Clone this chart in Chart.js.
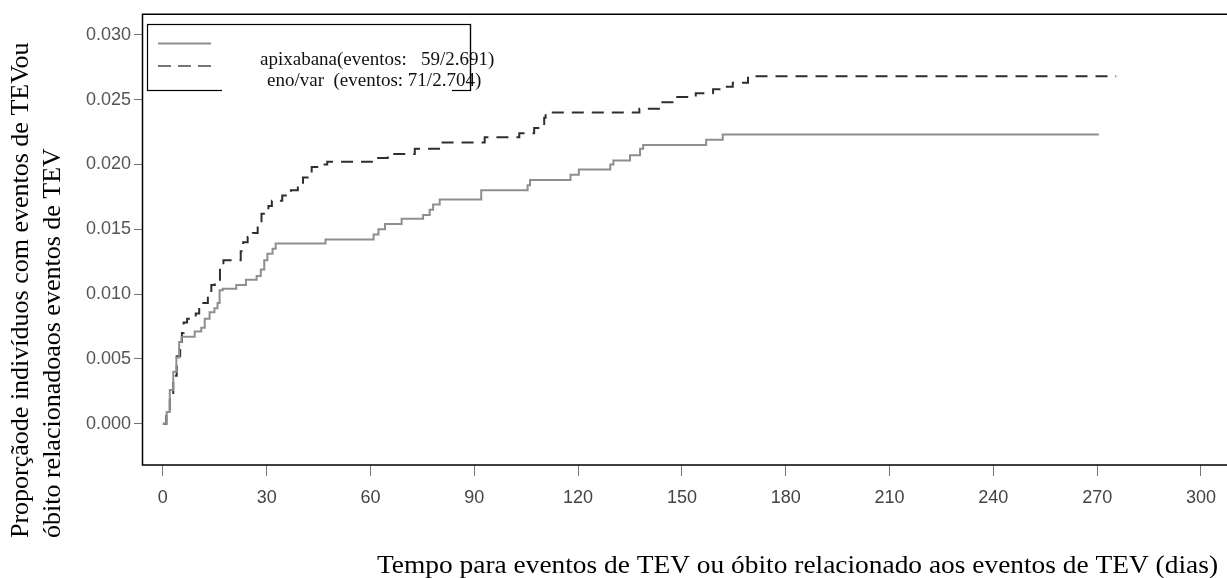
<!DOCTYPE html>
<html>
<head>
<meta charset="utf-8">
<script src="https://cdn.jsdelivr.net/npm/chart.js@4/dist/chart.umd.min.js"></script>
<style>
  html, body { margin: 0; padding: 0; background: #fff; }
  #wrap { width: 1227px; height: 578px; }
</style>
</head>
<body>
<div id="wrap"><canvas id="km" width="1227" height="578"></canvas></div>
<script>
// apixabana (solid) - cumulative proportion, step points
const apixDays = [0, 1.1, 2.0, 3.0, 3.9, 4.7, 5.4, 9.2, 11.1, 12.1, 13.5, 14.9, 15.8, 16.4, 17.3, 21.2, 24.0, 27.1, 28.3, 29.3, 30.2, 31.7, 32.6, 47.0, 60.9, 62.3, 64.2, 69.0, 75.2, 77.1, 78.1, 80.0, 92.0, 105.4, 106.1, 117.8, 120.2, 129.3, 130.2, 135.0, 137.9, 138.8, 157.0, 161.8, 270.5];
const apixRisk = [0, 0.0009, 0.0026, 0.0040, 0.0051, 0.0063, 0.0067, 0.0071, 0.0074, 0.0081, 0.0086, 0.0089, 0.0093, 0.0103, 0.0104, 0.0107, 0.0111, 0.0114, 0.0119, 0.0126, 0.0131, 0.0135, 0.0139, 0.0142, 0.0146, 0.0150, 0.0154, 0.0158, 0.0161, 0.0165, 0.0169, 0.0173, 0.0180, 0.0184, 0.0188, 0.0192, 0.0196, 0.0200, 0.0203, 0.0207, 0.0212, 0.0215, 0.0219, 0.0223, 0.0223];

// eno/var (dashed)
const enoxDays = [0, 1.0, 2.0, 3.0, 4.0, 5.0, 5.5, 6.0, 7.0, 9.5, 10.5, 13.0, 14.0, 15.0, 16.5, 17.5, 22.5, 23.2, 24.5, 26.0, 27.4, 28.5, 30.5, 31.5, 34.5, 37.0, 39.0, 40.5, 43.0, 46.0, 47.5, 60.4, 65.0, 72.8, 80.5, 93.0, 103.0, 107.3, 110.2, 110.6, 137.7, 144.0, 148.0, 154.0, 159.0, 161.4, 164.7, 169.1, 275.5];
const enoxRisk = [0, 0.0007, 0.0022, 0.0037, 0.0052, 0.0063, 0.0070, 0.0078, 0.0081, 0.0085, 0.0093, 0.0100, 0.0107, 0.0111, 0.0122, 0.0126, 0.0133, 0.0140, 0.0144, 0.0147, 0.0155, 0.0162, 0.0168, 0.0172, 0.0176, 0.0180, 0.0183, 0.0190, 0.0198, 0.0200, 0.0202, 0.0205, 0.0208, 0.0212, 0.0217, 0.0221, 0.0224, 0.0228, 0.0236, 0.0240, 0.0243, 0.0248, 0.0252, 0.0255, 0.0258, 0.0260, 0.0263, 0.0268, 0.0268];

const xTicks = [0, 30, 60, 90, 120, 150, 180, 210, 240, 270, 300];
const yTicks = [0, 0.005, 0.010, 0.015, 0.020, 0.025, 0.030];

const legendLabels = ["apixabana(eventos:   59/2.691)", "eno/var  (eventos: 71/2.704)"];
const yTitle = ["Proporçãode indivíduos com eventos de TEVou", "óbito relacionadoaos eventos de TEV"];
const xTitle = "Tempo para eventos de TEV ou óbito relacionado aos eventos de TEV (dias)";

const SOLID = "#8e8e8e";
const DASHED = "#2e2e2e";
const SERIF = "'Liberation Serif', 'Times New Roman', serif";

function toPoints(xs, ys) {
  return xs.map((x, i) => ({ x: x, y: ys[i] }));
}

const decor = {
  id: "decor",
  afterDraw(chart) {
    const ctx = chart.ctx;
    const a = chart.chartArea;
    ctx.save();

    // frame (the original has no right side)
    ctx.strokeStyle = "#000";
    ctx.lineWidth = 1.5;
    ctx.beginPath();
    ctx.moveTo(chart.width, a.top + 0.5);
    ctx.lineTo(a.left + 0.5, a.top + 0.5);
    ctx.lineTo(a.left + 0.5, a.bottom);
    ctx.lineTo(chart.width, a.bottom);
    ctx.stroke();

    // legend box
    ctx.lineWidth = 1.2;
    ctx.strokeRect(147.5, 24.5, 323, 66);
    ctx.fillStyle = "#fff";
    ctx.fillRect(222, 60, 230, 32);

    ctx.lineWidth = 2;
    ctx.strokeStyle = SOLID;
    ctx.beginPath();
    ctx.moveTo(158, 43.5);
    ctx.lineTo(211, 43.5);
    ctx.stroke();
    ctx.strokeStyle = "#777";
    ctx.setLineDash([13, 7]);
    ctx.beginPath();
    ctx.moveTo(158, 66);
    ctx.lineTo(211, 66);
    ctx.stroke();
    ctx.setLineDash([]);

    ctx.fillStyle = "#111";
    ctx.font = "19px " + SERIF;
    ctx.textAlign = "left";
    ctx.textBaseline = "alphabetic";
    ctx.fillText(legendLabels[0], 260, 65);
    ctx.fillText(legendLabels[1], 267, 86);

    ctx.strokeStyle = "#000";
    ctx.lineWidth = 1.2;
    ctx.beginPath();
    ctx.moveTo(470.5, 24);
    ctx.lineTo(470.5, 91);
    ctx.moveTo(452, 90.5);
    ctx.lineTo(471, 90.5);
    ctx.stroke();

    // axis titles
    ctx.fillStyle = "#000";
    ctx.font = "26px " + SERIF;
    const bases = [28, 60];
    yTitle.forEach((line, i) => {
      ctx.save();
      ctx.translate(bases[i], 538);
      ctx.rotate(-Math.PI / 2);
      ctx.fillText(line, 0, 0);
      ctx.restore();
    });
    // x title is a little wider in the original, stretch it to span 377..1218
    const w = ctx.measureText(xTitle).width;
    ctx.save();
    ctx.translate(377, 573);
    ctx.scale(841 / w, 1);
    ctx.fillText(xTitle, 0, 0);
    ctx.restore();

    ctx.restore();
  }
};

new Chart(document.getElementById("km"), {
  type: "line",
  data: {
    datasets: [
      {
        label: legendLabels[0],
        data: toPoints(apixDays, apixRisk),
        borderColor: SOLID,
        borderWidth: 2,
        stepped: true,
        pointRadius: 0,
        fill: false
      },
      {
        label: legendLabels[1],
        data: toPoints(enoxDays, enoxRisk),
        borderColor: DASHED,
        borderWidth: 2,
        borderDash: [12, 8],
        stepped: true,
        pointRadius: 0,
        fill: false
      }
    ]
  },
  options: {
    responsive: false,
    animation: false,
    devicePixelRatio: 1,
    layout: { padding: { top: 12, left: 0, right: 0, bottom: 0 } },
    plugins: {
      legend: { display: false },
      tooltip: { enabled: false }
    },
    scales: {
      x: {
        type: "linear",
        min: -6.03,
        max: 305.5,
        afterBuildTicks: s => { s.ticks = xTicks.map(v => ({ value: v })); },
        afterFit: s => { s.height = 113; },
        ticks: {
          autoSkip: false,
          maxRotation: 0,
          padding: 11,
          color: "#444",
          font: { family: "'Liberation Sans', Arial, sans-serif", size: 18 },
          callback: v => String(v)
        },
        grid: { drawOnChartArea: false, drawTicks: true, tickLength: 11, color: "#777" },
        border: { display: false }
      },
      y: {
        type: "linear",
        min: -0.00319,
        max: 0.03162,
        afterBuildTicks: s => { s.ticks = yTicks.map(v => ({ value: v })); },
        afterFit: s => { s.width = 142; },
        ticks: {
          padding: 3,
          color: "#555",
          font: { family: "'Liberation Sans', Arial, sans-serif", size: 18 },
          callback: v => v.toFixed(3)
        },
        grid: { drawOnChartArea: false, drawTicks: true, tickLength: 8, color: "#777" },
        border: { display: false }
      }
    }
  },
  plugins: [decor]
});
</script>
</body>
</html>
